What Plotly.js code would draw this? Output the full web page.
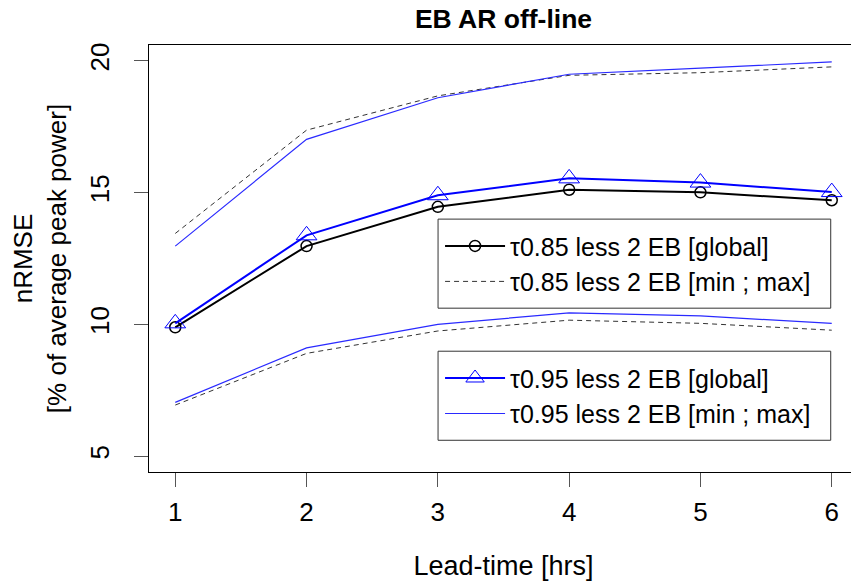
<!DOCTYPE html>
<html>
<head>
<meta charset="utf-8">
<script src="https://cdn.plot.ly/plotly-3.0.1.min.js"></script>
<style>
html, body { margin: 0; padding: 0; overflow: hidden; background: #fff; }
#chart { width: 880px; height: 581px; }
</style>
</head>
<body>
<div id="chart"></div>
<script>
// Lead time (hours)
var leadTime = [1, 2, 3, 4, 5, 6];
var xTickLabels = ['1', '2', '3', '4', '5', '6'];
var yTickValues = [5, 10, 15, 20];

// tau 0.85 less 2 EB
var tau85Global = [9.89, 12.97, 14.46, 15.11, 15.01, 14.71];
var tau85Max    = [13.45, 17.37, 18.67, 19.45, 19.55, 19.77];
var tau85Min    = [6.94, 8.90, 9.75, 10.16, 10.04, 9.78];

// tau 0.95 less 2 EB
var tau95Global = [10.04, 13.38, 14.90, 15.54, 15.38, 15.02];
var tau95Max    = [12.97, 17.02, 18.60, 19.49, 19.72, 19.96];
var tau95Min    = [7.04, 9.11, 10.00, 10.44, 10.32, 10.04];

var FONT = '"Liberation Sans", Arial, sans-serif';

// plot-area geometry (px) used to place the legend boxes
var PL = 148.7, PW = 709.6, PT = 45, PH = 426.7;
function px2x(px) { return (px - PL) / PW; }
function px2y(py) { return (PT + PH - py) / PH; }

var traces = [
  {
    x: leadTime, y: tau85Max, type: 'scatter', mode: 'lines',
    name: '\u03c40.85 less 2 EB [min ; max]', legend: 'legend', legendgroup: 'g85mm', legendrank: 2,
    line: { color: '#333333', width: 1, dash: '5px,4px' }
  },
  {
    x: leadTime, y: tau85Min, type: 'scatter', mode: 'lines',
    name: '\u03c40.85 less 2 EB [min ; max]', legend: 'legend', legendgroup: 'g85mm', showlegend: false,
    line: { color: '#333333', width: 1, dash: '5px,4px' }
  },
  {
    x: leadTime, y: tau95Max, type: 'scatter', mode: 'lines',
    name: '\u03c40.95 less 2 EB [min ; max]', legend: 'legend2', legendgroup: 'g95mm', legendrank: 2,
    line: { color: '#2a2aff', width: 1.2 }
  },
  {
    x: leadTime, y: tau95Min, type: 'scatter', mode: 'lines',
    name: '\u03c40.95 less 2 EB [min ; max]', legend: 'legend2', legendgroup: 'g95mm', showlegend: false,
    line: { color: '#2a2aff', width: 1.2 }
  },
  {
    x: leadTime, y: tau85Global, type: 'scatter', mode: 'lines+markers',
    name: '\u03c40.85 less 2 EB [global]', legend: 'legend', legendrank: 1,
    line: { color: '#000000', width: 2 },
    marker: { symbol: 'circle-open', size: 11, color: '#000000', line: { width: 1.5, color: '#000000' } }
  },
  {
    x: leadTime, y: tau95Global, type: 'scatter', mode: 'lines+markers',
    name: '\u03c40.95 less 2 EB [global]', legend: 'legend2', legendrank: 1,
    line: { color: '#0000ff', width: 2 },
    marker: { symbol: 'triangle-up-open', size: 18, color: '#0000ff', line: { width: 1, color: '#0000ff' } }
  }
];

var legendCommon = {
  xref: 'paper', yref: 'paper', xanchor: 'left', yanchor: 'middle',
  bgcolor: 'rgba(0,0,0,0)', bordercolor: 'rgba(0,0,0,0)', borderwidth: 0,
  font: { family: FONT, size: 25, color: '#000000' },
  itemwidth: 60, tracegroupgap: 0, traceorder: 'normal'
};

var legend1 = Object.assign({}, legendCommon, { x: px2x(440), y: px2y(263.5) });
var legend2 = Object.assign({}, legendCommon, { x: px2x(440), y: px2y(395.5) });

var boxStyle = { type: 'rect', xref: 'paper', yref: 'paper', layer: 'above',
  fillcolor: '#ffffff', line: { color: '#333333', width: 1 } };

var layout = {
  width: 880, height: 581,
  margin: { l: PL, r: 880 - (PL + PW), t: PT, b: 581 - (PT + PH) },
  paper_bgcolor: '#ffffff', plot_bgcolor: '#ffffff',
  font: { family: FONT, size: 26, color: '#000000' },
  showlegend: true,
  title: {
    text: 'EB AR off-line',
    font: { family: FONT, size: 26.5, weight: 'bold', color: '#000000' },
    x: 0.5, xref: 'paper', xanchor: 'center',
    y: 1 - 19 / 581, yref: 'container', yanchor: 'middle'
  },
  xaxis: {
    range: [0.8, 6.2], tickmode: 'array', tickvals: leadTime, ticktext: xTickLabels,
    ticks: 'outside', ticklen: 14, tickwidth: 1, tickcolor: '#555555', ticklabelstandoff: 3,
    showgrid: false, zeroline: false,
    showline: true, mirror: true, linecolor: '#000000', linewidth: 1,
    tickfont: { family: FONT, size: 26, color: '#000000' },
    title: { text: 'Lead-time [hrs]', font: { family: FONT, size: 27, color: '#000000' }, standoff: 32 }
  },
  yaxis: {
    range: [4.4, 20.6], tickmode: 'array', tickvals: yTickValues,
    ticks: 'outside', ticklen: 14, tickwidth: 1, tickcolor: '#555555', tickangle: -90, ticklabelstandoff: 15,
    showgrid: false, zeroline: false,
    showline: true, mirror: true, linecolor: '#000000', linewidth: 1,
    tickfont: { family: FONT, size: 26, color: '#000000' },
    title: { text: 'nRMSE<br>[% of average peak power]', font: { family: FONT, size: 26, color: '#000000' }, standoff: 10 }
  },
  shapes: [
    Object.assign({}, boxStyle, { x0: px2x(438), x1: px2x(831), y0: px2y(219), y1: px2y(308) }),
    Object.assign({}, boxStyle, { x0: px2x(438), x1: px2x(831), y0: px2y(351), y1: px2y(440) })
  ],
  legend: legend1,
  legend2: legend2
};

Plotly.newPlot('chart', traces, layout, { displayModeBar: false, staticPlot: true });
</script>
</body>
</html>
